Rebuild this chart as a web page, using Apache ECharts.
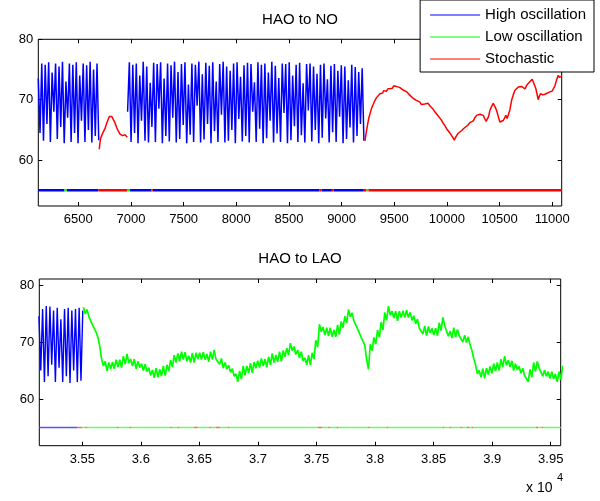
<!DOCTYPE html>
<html>
<head>
<meta charset="utf-8">
<script src="https://cdn.jsdelivr.net/npm/echarts@6/dist/echarts.min.js"></script>
<style>html,body{margin:0;padding:0;background:#fff}#c{width:600px;height:501px}</style>
</head>
<body>
<div id="c"></div>
<script>
// ---------- data ----------
const seriesNames = ['High oscillation', 'Low oscillation', 'Stochastic'];
const titles = ['HAO to NO', 'HAO to LAO'];

const topXRange = [6120, 11090];
const topYRange = [52.4, 80];
const topXTicks = [6500, 7000, 7500, 8000, 8500, 9000, 9500, 10000, 10500, 11000];
const topYTicks = [60, 70, 80];

const bottomXRange = [35133, 39585];
const bottomYRange = [51.8, 81.05];
const bottomXTicks = [35500, 36000, 36500, 37000, 37500, 38000, 38500, 39000, 39500];
const bottomYTicks = [60, 70, 80];
const xScaleExponent = 4;

const stateLevel = 55;

// top: high oscillation, first run (start, sample spacing, values)
const topHighA_start = 6120, topHighA_step = 16.4;
const topHighA = [73.5, 64.5, 76.0, 63.2, 75.8, 66.0, 76.2, 63.0, 74.5, 68.0, 76.0, 63.5, 75.5, 65.5, 76.3, 62.8, 73.0, 67.0,
  76.0, 63.0, 75.8, 64.5, 76.2, 62.8, 74.0, 66.5, 76.0, 63.0, 75.7, 65.0, 76.3, 62.9, 75.0, 64.0, 76.0, 63.3];

// top: high oscillation, second run
const topHighB_start = 6968, topHighB_step = 16.5;
const topHighB = [68.0, 76.2, 63.0, 75.8, 64.5, 76.0, 62.8, 74.0, 66.5, 76.3, 63.2, 75.5, 62.9, 72.8, 65.5, 76.1, 63.0, 75.9,
  68.5, 76.2, 62.8, 73.5, 64.0, 76.0, 63.1, 75.7, 67.0, 76.3, 62.9, 74.6, 63.5, 75.9, 65.8, 76.2, 62.8, 72.5, 64.2, 76.0,
  63.0, 75.8, 69.0, 76.3, 62.9, 74.2, 63.4, 76.1, 66.0, 75.6, 62.8, 76.2, 64.8, 73.0, 63.0, 75.9, 67.5, 76.3, 62.9, 75.5,
  63.2, 74.8, 65.0, 76.0, 62.8, 76.2, 66.8, 73.8, 63.1, 75.7, 64.0, 76.1, 62.9, 75.9, 68.0, 72.9, 63.0, 76.2, 65.2, 75.8,
  62.8, 76.0, 63.6, 74.5, 66.5, 76.3, 62.9, 75.6, 64.4, 73.6, 63.0, 76.0, 67.8, 75.9, 62.8, 76.2, 63.3, 74.0, 65.6, 75.8,
  63.0, 76.1, 64.1, 72.7, 62.9, 75.9, 68.2, 76.0, 63.1, 75.5, 65.0, 74.3, 62.8, 75.8, 63.7, 76.0, 66.9, 73.4, 62.9, 75.6,
  64.6, 75.9, 63.0, 74.8, 67.2, 75.7, 62.8, 75.5, 63.5, 73.2, 65.4, 75.8, 62.9, 75.4, 64.0, 74.6, 66.0, 75.2, 63.2];

// top: stochastic runs [x, y]
const topStochA = [[6699, 61.8], [6705, 62.8], [6712, 63.6], [6722, 64.05], [6735, 64.6], [6753, 65.2], [6768, 66.0],
  [6785, 66.8], [6795, 67.2], [6807, 67.4], [6818, 67.2], [6832, 67.0], [6845, 66.3], [6864, 65.4], [6880, 64.8],
  [6896, 64.3], [6905, 64.0], [6913, 64.3], [6921, 64.05], [6930, 64.3], [6943, 64.2], [6952, 63.9], [6958, 64.2], [6965, 63.8]];
const topStochB = [[9222, 63.2], [9228, 63.9], [9236, 64.8], [9248, 66.0], [9260, 67.1], [9272, 67.8], [9285, 68.6],
  [9300, 69.2], [9317, 69.9], [9330, 70.3], [9345, 70.6], [9364, 71.0], [9378, 71.3], [9390, 71.1], [9400, 71.5],
  [9412, 71.55], [9425, 71.4], [9440, 71.8], [9459, 71.8], [9470, 72.1], [9482, 71.9], [9495, 72.3], [9507, 72.4],
  [9520, 72.2], [9535, 72.3], [9554, 72.0], [9570, 71.8], [9585, 71.6], [9600, 71.5], [9618, 71.3], [9630, 71.0],
  [9645, 70.8], [9660, 70.5], [9681, 70.2], [9695, 70.0], [9710, 69.9], [9725, 69.7], [9744, 69.6], [9758, 69.2],
  [9776, 68.9], [9790, 69.3], [9807, 69.6], [9820, 69.4], [9838, 69.0], [9855, 68.8], [9870, 68.4], [9885, 68.0],
  [9902, 67.7], [9918, 67.3], [9935, 66.9], [9950, 66.55], [9965, 66.1], [9980, 65.7], [9997, 65.2], [10012, 64.9],
  [10028, 64.5], [10045, 64.05], [10058, 63.7], [10070, 63.3], [10080, 63.7], [10092, 64.05], [10105, 64.4],
  [10120, 64.5], [10140, 64.9], [10155, 65.1], [10170, 65.4], [10187, 65.7], [10200, 65.8], [10218, 66.2],
  [10235, 66.4], [10250, 66.5], [10265, 67.0], [10282, 67.4], [10298, 67.3], [10314, 67.6], [10330, 67.7],
  [10345, 67.4], [10361, 66.8], [10372, 66.4], [10383, 66.1], [10395, 67.2], [10408, 68.2], [10425, 68.9],
  [10440, 69.4], [10455, 68.9], [10472, 68.2], [10488, 67.2], [10503, 66.3], [10518, 66.4], [10535, 66.55],
  [10548, 67.0], [10560, 67.4], [10572, 66.9], [10582, 66.8], [10598, 68.3], [10614, 69.9], [10630, 70.8],
  [10646, 71.55], [10662, 71.8], [10678, 72.1], [10693, 72.4], [10708, 72.2], [10725, 71.9], [10741, 71.8],
  [10755, 72.3], [10772, 72.7], [10790, 73.0], [10810, 73.4], [10828, 72.6], [10845, 71.8], [10856, 70.9],
  [10867, 70.0], [10878, 70.6], [10890, 71.0], [10910, 70.8], [10930, 70.9], [10955, 71.1], [10978, 71.3],
  [10998, 71.4], [11016, 71.7], [11026, 72.3], [11035, 72.9], [11046, 73.5], [11057, 74.05], [11068, 73.7],
  [11080, 73.5], [11092, 73.9]];

// top: regime indicator
const topStateBreaks = [6120, 6368, 6392, 6691, 6962, 6990, 7194, 7207, 8787, 8810, 8908, 8925, 9211, 9235, 9255, 11090];
const topStateCodes = ['H', 'L', 'H', 'S', 'L', 'H', 'S', 'H', 'S', 'H', 'S', 'H', 'S', 'L', 'S'];

// bottom: high oscillation
const bottomHigh_start = 35130, bottomHigh_step = 15.6;
const bottomHigh = [74.5, 65.0, 75.8, 63.0, 76.3, 64.0, 76.2, 66.0, 75.5, 63.0, 76.0, 65.5, 74.0, 63.0, 75.8, 64.0,
  76.0, 62.8, 75.5, 65.0, 75.8, 63.0, 76.0, 63.2, 75.5];

// bottom: low oscillation
const bottomLow_start = 35510, bottomLow_step = 15.5;
const bottomLow = [76.1, 74.9, 75.7, 74.4, 74.4, 73.0, 73.1, 71.7, 70.8, 69.2, 67.0, 65.8, 66.6, 64.9, 66.4, 65.3,
  66.5, 65.3, 66.9, 65.6, 66.9, 65.5, 67.5, 66.1, 67.9, 66.3, 67.0, 65.8, 67.0, 65.3, 66.6, 65.5,
  66.2, 65.0, 66.1, 64.8, 65.5, 64.1, 65.1, 63.7, 65.4, 63.8, 65.2, 64.0, 65.8, 64.1, 66.0, 64.9,
  66.8, 65.6, 67.7, 66.4, 68.0, 66.6, 68.3, 66.9, 68.2, 66.6, 67.6, 66.4, 68.1, 66.4, 68.1, 67.0,
  68.1, 66.9, 68.2, 66.9, 67.9, 66.5, 68.3, 66.9, 68.6, 67.0, 67.3, 66.1, 67.1, 65.4, 66.4, 65.3,
  65.9, 64.7, 65.3, 64.0, 64.4, 63.0, 64.9, 63.5, 65.8, 64.2, 65.8, 64.6, 66.3, 64.6, 66.5, 65.4,
  66.7, 65.5, 67.1, 65.8, 67.0, 65.6, 67.4, 66.0, 68.0, 66.4, 67.7, 66.5, 68.3, 66.6, 68.5, 67.4,
  68.9, 67.7, 69.8, 68.5, 69.2, 67.8, 68.6, 67.2, 68.3, 66.7, 67.2, 66.0, 67.7, 66.0, 68.1, 67.0,
  70.3, 69.1, 73.1, 71.8, 72.6, 71.2, 72.5, 71.1, 72.5, 70.9, 72.1, 70.9, 73.0, 71.3, 73.6, 72.5,
  74.5, 73.3, 75.7, 74.4, 75.1, 73.7, 73.7, 72.3, 72.4, 70.8, 70.6, 69.4, 66.9, 65.2, 69.6, 68.5,
  70.8, 69.6, 72.1, 70.8, 73.5, 72.1, 75.2, 73.8, 76.3, 74.7, 75.4, 74.2, 75.4, 73.7, 75.4, 74.3,
  75.5, 74.3, 75.6, 74.3, 75.2, 73.8, 74.6, 73.2, 74.0, 72.4, 72.6, 71.4, 72.8, 71.1, 72.7, 71.6,
  72.4, 71.2, 72.4, 71.1, 73.4, 72.0, 74.3, 72.9, 72.6, 71.0, 71.9, 70.7, 72.5, 70.8, 72.2, 71.1,
  71.2, 70.0, 71.2, 69.9, 70.9, 69.5, 68.5, 67.1, 66.0, 64.4, 65.0, 63.8, 65.3, 63.6, 65.4, 64.3,
  65.7, 64.5, 66.2, 64.9, 66.4, 65.0, 67.0, 65.6, 67.5, 65.9, 66.8, 65.6, 66.7, 65.0, 66.2, 65.1,
  65.7, 64.5, 65.4, 64.1, 64.4, 63.0, 65.2, 63.8, 66.4, 64.8, 66.6, 65.4, 65.7, 64.0, 65.1, 64.0,
  64.8, 63.6, 64.8, 63.5, 64.4, 63.0, 64.8, 63.4, 65.8, 64.2];

// bottom: regime indicator
const bottomStateBreaks = [35133, 35455, 35497, 35525, 35540, 35795, 35810, 35902, 35918, 36250, 36264, 36313, 36327,
  36454, 36485, 36584, 36598, 36642, 36678, 36743, 36757, 37513, 37550, 37600, 37614, 37671, 37685, 37941, 37955,
  38098, 38112, 38576, 38590, 38637, 38651, 38728, 38742, 38785, 38802, 38823, 38837, 39372, 39392, 39421, 39435, 39585];
const bottomStateCodes = ['H', 'S', 'L', 'S', 'L', 'S', 'L', 'S', 'L', 'S', 'L', 'S', 'L', 'S', 'L', 'S', 'L', 'S', 'L',
  'S', 'L', 'S', 'L', 'S', 'L', 'S', 'L', 'S', 'L', 'S', 'L', 'S', 'L', 'S', 'L', 'S', 'L', 'S', 'L', 'S', 'L', 'S', 'L', 'S', 'L'];

// ---------- build ----------
const colors = { H: '#0000ff', L: '#00ff00', S: '#ff0000' };
const nameOf = { H: seriesNames[0], L: seriesNames[1], S: seriesNames[2] };
const FONT = '"Liberation Sans", Arial, sans-serif';

function sampled(start, step, vals) { return vals.map((v, i) => [start + i * step, v]); }
function stateData(breaks, codes, code) {
  const out = [];
  codes.forEach((c, i) => { if (c === code) { out.push([breaks[i], stateLevel], [breaks[i + 1], stateLevel], null); } });
  return out;
}
function line(name, color, data, grid, width) {
  return { type: 'line', name, data, xAxisIndex: grid * 2, yAxisIndex: grid * 2, showSymbol: false, symbol: 'none',
    lineStyle: { color, width }, itemStyle: { color }, silent: true, animation: false, connectNulls: false };
}
function xAxes(grid, range, ticks, fmt) {
  const base = { type: 'value', gridIndex: grid, min: range[0], max: range[1], splitLine: { show: false },
    axisLine: { show: false } };
  return [
    Object.assign({}, base, { position: 'bottom',
      axisTick: { show: true, inside: true, length: 4, customValues: ticks, lineStyle: { color: '#000' } },
      axisLabel: { show: true, customValues: ticks, margin: 7, color: '#000', fontSize: 13, fontFamily: FONT, formatter: fmt } }),
    Object.assign({}, base, { position: 'top',
      axisTick: { show: true, inside: true, length: 4, customValues: ticks, lineStyle: { color: '#000' } },
      axisLabel: { show: false } })
  ];
}
function yAxes(grid, range, ticks) {
  const base = { type: 'value', gridIndex: grid, min: range[0], max: range[1], splitLine: { show: false },
    axisLine: { show: false } };
  return [
    Object.assign({}, base, { position: 'left',
      axisTick: { show: true, inside: true, length: 4, customValues: ticks, lineStyle: { color: '#000' } },
      axisLabel: { show: true, customValues: ticks, margin: 5, color: '#000', fontSize: 13, fontFamily: FONT } }),
    Object.assign({}, base, { position: 'right',
      axisTick: { show: true, inside: true, length: 4, customValues: ticks, lineStyle: { color: '#000' } },
      axisLabel: { show: false } })
  ];
}

const series = [
  line(nameOf.H, colors.H, sampled(topHighA_start, topHighA_step, topHighA), 0, 1.5),
  line(nameOf.H, colors.H, sampled(topHighB_start, topHighB_step, topHighB), 0, 1.5),
  line(nameOf.S, colors.S, topStochA, 0, 1.5),
  line(nameOf.S, colors.S, topStochB, 0, 1.5),
  line(nameOf.H, colors.H, stateData(topStateBreaks, topStateCodes, 'H'), 0, 2.5),
  line(nameOf.L, colors.L, stateData(topStateBreaks, topStateCodes, 'L'), 0, 2.5),
  line(nameOf.S, colors.S, stateData(topStateBreaks, topStateCodes, 'S'), 0, 2.5),
  line(nameOf.H, colors.H, sampled(bottomHigh_start, bottomHigh_step, bottomHigh), 1, 1.4),
  line(nameOf.L, colors.L, sampled(bottomLow_start, bottomLow_step, bottomLow), 1, 1.7),
  line(nameOf.H, '#5555ff', stateData(bottomStateBreaks, bottomStateCodes, 'H'), 1, 1.5),
  line(nameOf.L, '#66ff66', stateData(bottomStateBreaks, bottomStateCodes, 'L'), 1, 1.5),
  line(nameOf.S, '#ff6666', stateData(bottomStateBreaks, bottomStateCodes, 'S'), 1, 1.5)
];

const chart = echarts.init(document.getElementById('c'), null, { renderer: 'canvas' });
chart.setOption({
  backgroundColor: '#fff',
  animation: false,
  color: [colors.H, colors.L, colors.S],
  title: [
    { text: titles[0], left: 'center', top: 12, padding: 0, textStyle: { fontFamily: FONT, fontWeight: 'normal', fontSize: 15, color: '#000' } },
    { text: titles[1], left: 'center', top: 251, padding: 0, textStyle: { fontFamily: FONT, fontWeight: 'normal', fontSize: 15, color: '#000' } }
  ],
  legend: {
    data: seriesNames.map(n => ({ name: n, itemStyle: { color: colors[Object.keys(nameOf).find(k => nameOf[k] === n)] } })),
    orient: 'vertical', right: 6, top: 0, padding: [4, 8, 2, 10],
    icon: 'rect', itemWidth: 50, itemHeight: 1.2, itemGap: 0,
    backgroundColor: '#fff', borderColor: '#000', borderWidth: 1, selectedMode: false,
    textStyle: { fontFamily: FONT, fontSize: 15, color: '#000', lineHeight: 22 }
  },
  grid: [
    { left: 38.3, right: 38.3, top: 39.3, height: 166.7, show: true, borderColor: '#000', borderWidth: 1, backgroundColor: 'transparent' },
    { left: 39.3, right: 39.3, top: 279, height: 166.7, show: true, borderColor: '#000', borderWidth: 1, backgroundColor: 'transparent' }
  ],
  xAxis: [].concat(
    xAxes(0, topXRange, topXTicks, v => String(v)),
    xAxes(1, bottomXRange, bottomXTicks, v => String(v / Math.pow(10, xScaleExponent)))
  ),
  yAxis: [].concat(yAxes(0, topYRange, topYTicks), yAxes(1, bottomYRange, bottomYTicks)),
  graphic: [
    { type: 'text', left: 526, top: 481, style: { text: 'x 10', fontFamily: FONT, fontSize: 14, fill: '#000' } },
    { type: 'text', left: 557, top: 472, style: { text: String(xScaleExponent), fontFamily: FONT, fontSize: 11, fill: '#000' } }
  ],
  series
});
</script>
</body>
</html>
